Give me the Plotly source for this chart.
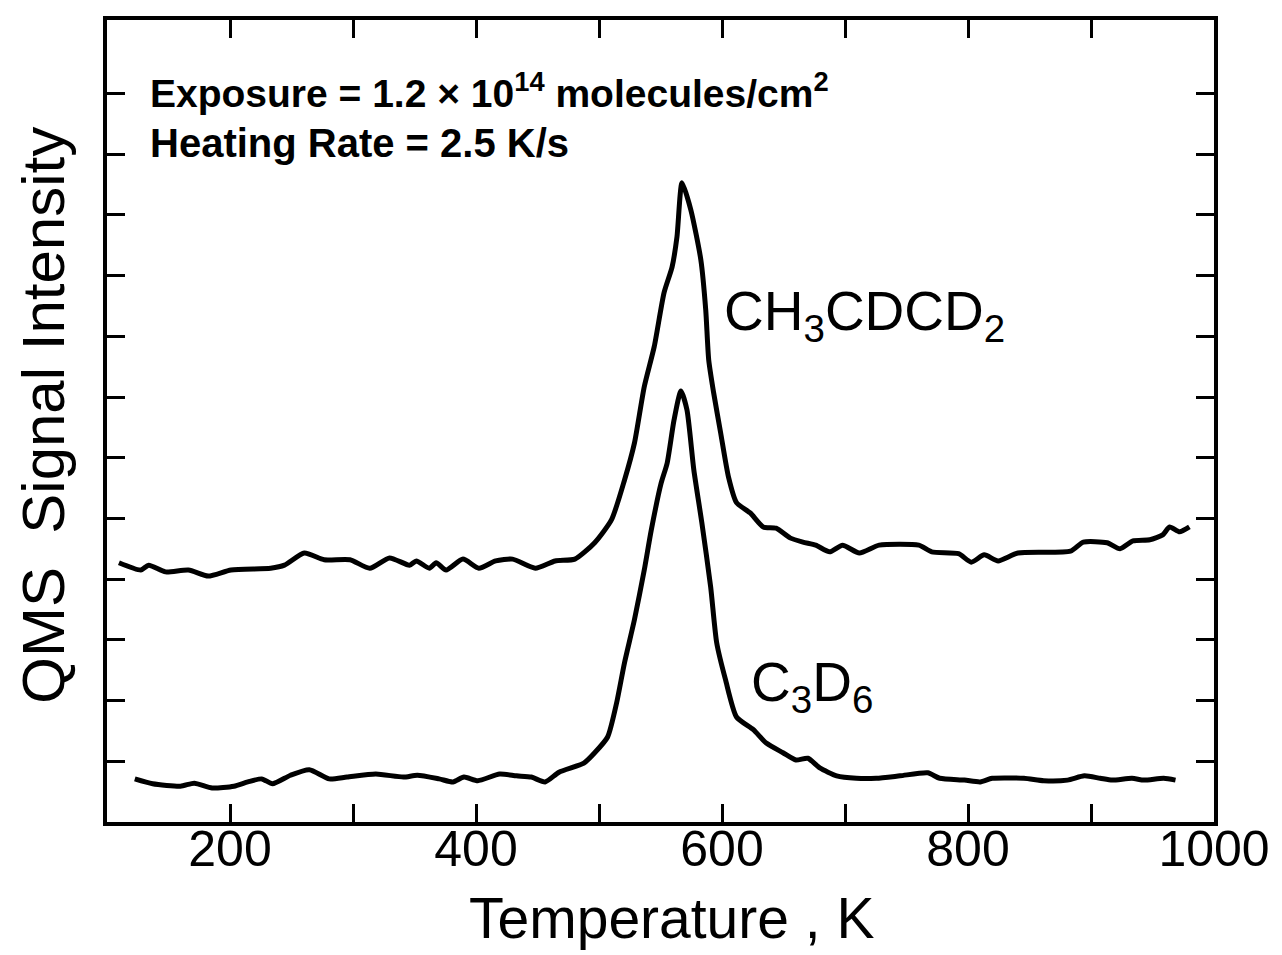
import plotly.graph_objects as go

# ---- data ----
t_ch3cdcd2 = [109.7, 127.5, 133.9, 147.6, 166.2, 182.3, 200.8, 233.0, 244.3, 260.4, 276.6, 297.5,
              313.6, 329.7, 345.9, 351.5, 362.0, 367.6, 375.7, 389.4, 402.3, 416.0, 429.7, 448.2,
              464.3, 480.4, 496.5, 510.2, 520.7, 528.8, 536.8, 544.9, 552.9, 559.4, 563.4, 567.5,
              574.7, 582.8, 586.8, 589.2, 593.2, 598.9, 605.3, 611.8, 623.0, 633.5, 644.0, 655.3,
              665.8, 676.2, 687.5, 698.0, 711.7, 727.8, 760.0, 770.5, 792.3, 802.7, 813.2, 824.5,
              840.6, 883.3, 893.8, 913.1, 923.6, 934.1, 947.8, 958.3, 963.9, 972.0, 980.0]
s_ch3cdcd2 = [4.27, 4.15, 4.23, 4.12, 4.15, 4.05, 4.15, 4.18, 4.23, 4.43, 4.32, 4.32,
              4.18, 4.35, 4.23, 4.30, 4.18, 4.27, 4.15, 4.33, 4.18, 4.30, 4.33, 4.18,
              4.30, 4.33, 4.60, 4.98, 5.63, 6.24, 7.17, 7.83, 8.72, 9.14, 9.64, 10.53,
              10.08, 9.26, 8.43, 7.61, 7.07, 6.41, 5.68, 5.26, 5.09, 4.86, 4.84, 4.68,
              4.61, 4.56, 4.45, 4.56, 4.43, 4.56, 4.56, 4.45, 4.42, 4.28, 4.40, 4.30,
              4.43, 4.46, 4.61, 4.60, 4.50, 4.63, 4.65, 4.73, 4.86, 4.78, 4.86]

t_c3d6 = [122.6, 137.1, 159.7, 171.0, 185.5, 203.2, 214.5, 225.8, 234.6, 249.2, 264.5, 280.6,
          295.1, 318.5, 341.0, 352.3, 370.0, 381.3, 390.2, 401.5, 419.2, 432.9, 445.0, 456.2,
          467.5, 487.7, 496.5, 507.0, 514.3, 520.7, 528.8, 536.8, 542.5, 550.5, 555.4, 561.0,
          566.6, 571.5, 577.1, 583.6, 590.8, 595.7, 602.9, 611.8, 625.5, 636.0, 649.6, 660.1,
          669.8, 679.5, 693.2, 709.3, 725.4, 744.7, 767.3, 777.0, 797.1, 810.0, 819.7, 845.5,
          861.6, 880.9, 894.6, 907.5, 917.2, 933.3, 943.0, 959.1, 968.7]
s_c3d6 = [0.71, 0.63, 0.59, 0.64, 0.56, 0.59, 0.66, 0.71, 0.63, 0.77, 0.86, 0.71,
          0.74, 0.79, 0.74, 0.77, 0.71, 0.66, 0.74, 0.68, 0.79, 0.76, 0.74, 0.66,
          0.82, 0.97, 1.14, 1.40, 1.96, 2.62, 3.33, 4.15, 4.81, 5.58, 5.91, 6.62,
          7.10, 6.79, 5.80, 4.93, 3.87, 2.95, 2.34, 1.73, 1.52, 1.30, 1.14, 1.02,
          1.05, 0.89, 0.76, 0.72, 0.72, 0.76, 0.81, 0.72, 0.69, 0.66, 0.72, 0.72,
          0.68, 0.69, 0.76, 0.72, 0.69, 0.72, 0.69, 0.72, 0.69]

x_tickvals = [200, 400, 600, 800, 1000]
x_ticktext = ["200", "400", "600", "800", "1000"]
x_minor_tickvals = [300, 500, 700, 900]
y_tickvals = [1, 2, 3, 4, 5, 6, 7, 8, 9, 10, 11, 12]

FONT = "Liberation Sans"

fig = go.Figure()
fig.add_trace(go.Scatter(x=t_ch3cdcd2, y=s_ch3cdcd2, mode="lines",
                         line=dict(color="black", width=5, shape="spline", smoothing=0.6),
                         showlegend=False, hoverinfo="skip"))
fig.add_trace(go.Scatter(x=t_c3d6, y=s_c3d6, mode="lines",
                         line=dict(color="black", width=5, shape="spline", smoothing=0.6),
                         showlegend=False, hoverinfo="skip"))

fig.update_layout(
    width=1282, height=955,
    margin=dict(l=107, r=57, t=20, b=133),
    paper_bgcolor="white", plot_bgcolor="white",
    font=dict(family=FONT, color="black"),
    xaxis=dict(range=[100, 1000], tickvals=x_tickvals, ticktext=x_ticktext,
               ticks="inside", ticklen=18, tickwidth=3, tickcolor="black",
               minor=dict(tickvals=x_minor_tickvals, ticks="inside", ticklen=18,
                          tickwidth=3, tickcolor="black", showgrid=False),
               showline=True, linewidth=4, linecolor="black", mirror="ticks",
               showgrid=False, zeroline=False, ticklabelstandoff=-20,
               tickfont=dict(family=FONT, size=50, color="black")),
    yaxis=dict(range=[0, 13.21], tickvals=y_tickvals, showticklabels=False,
               ticks="inside", ticklen=18, tickwidth=3, tickcolor="black",
               showline=True, linewidth=4, linecolor="black", mirror="ticks",
               showgrid=False, zeroline=False),
)

annos = [
    dict(text="Temperature , K", x=0.51, y=-0.12, xanchor="center", yanchor="middle",
         font=dict(size=57)),
    dict(text="QMS  Signal Intensity", x=-0.0575, y=0.507, xanchor="center", yanchor="middle",
         textangle=-90, font=dict(size=60)),
    dict(text="<b>Exposure = 1.2 × 10<sup>14</sup> molecules/cm<sup>2</sup></b>",
         x=(148 - 107) / 1118, y=(822 - 90) / 802, xanchor="left", yanchor="middle",
         font=dict(size=39)),
    dict(text="<b>Heating Rate = 2.5 K/s</b>",
         x=(148 - 107) / 1118, y=(822 - 143) / 802, xanchor="left", yanchor="middle",
         font=dict(size=40)),
    dict(text="CH<sub>3</sub>CDCD<sub>2</sub>",
         x=(728 - 107) / 1118, y=(822 - 315) / 802, xanchor="left", yanchor="middle",
         font=dict(size=55)),
    dict(text="C<sub>3</sub>D<sub>6</sub>",
         x=(755 - 107) / 1118, y=(822 - 686) / 802, xanchor="left", yanchor="middle",
         font=dict(size=55)),
]
for a in annos:
    a.update(xref="paper", yref="paper", showarrow=False)
    a.setdefault("font", {})
    a["font"].setdefault("family", FONT)
    a["font"].setdefault("color", "black")
    fig.add_annotation(**a)

fig.write_html("out.html")
